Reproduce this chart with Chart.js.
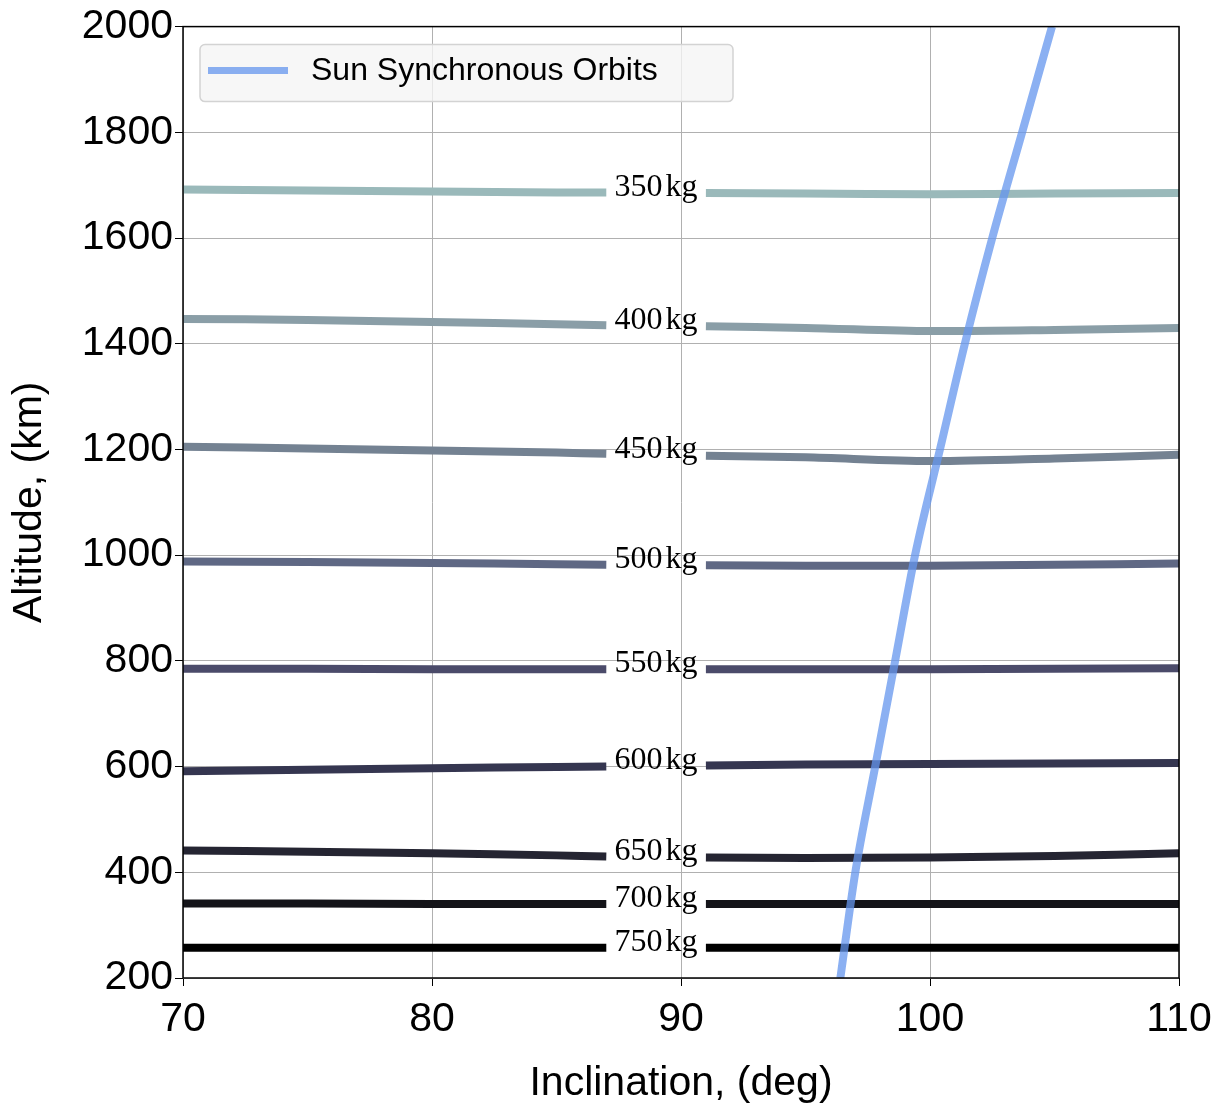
<!DOCTYPE html>
<html>
<head>
<meta charset="utf-8">
<script src="https://cdn.jsdelivr.net/npm/chart.js@4.4.1/dist/chart.umd.min.js"></script>
<style>
    body { margin: 0; background: #fff; }
    #wrap { width: 1231px; height: 1108px; }
</style>
</head>
<body>
<div id="wrap"><canvas id="massChart"></canvas></div>
<script>
// Data
const inclination = [70, 75, 80, 85, 87, 91, 95, 100, 105, 110];
const levels = [350, 400, 450, 500, 550, 600, 650, 700, 750];
const alt350 = [1692, 1690, 1688, 1686, 1686, 1685, 1684, 1683, 1684, 1685];
const alt400 = [1447, 1445, 1441, 1437, 1435, 1433, 1430, 1424, 1426, 1430];
const alt450 = [1205, 1202, 1198, 1194, 1192, 1188, 1185, 1178, 1183, 1190];
const alt500 = [988, 987, 985, 983, 982, 981, 980, 980, 982, 984];
const alt550 = [785, 785, 784, 784, 784, 784, 784, 784, 785, 786];
const alt600 = [591, 594, 597, 599, 600, 602, 604, 605, 606, 607];
const alt650 = [441, 439, 436, 432, 430, 428, 427, 428, 431, 436];
const alt700 = [341, 341, 340, 340, 340, 340, 340, 340, 340, 340];
const alt750 = [257, 257, 257, 257, 257, 257, 257, 257, 257, 257];
const levelAlts = [alt350, alt400, alt450, alt500, alt550, alt600, alt650, alt700, alt750];
const levelColors = ['#9ab9ba', '#8a9ea7', '#748292', '#5f6884', '#4b4b6a', '#353650', '#252532', '#141419', '#000000'];

const ssoAltitude = [200, 400, 600, 800, 1000, 1200, 1400, 1600, 1800, 2000];
const ssoInclination = [96.4, 97.0, 97.8, 98.6, 99.4, 100.4, 101.4, 102.5, 103.7, 104.9];

const xTicks = [70, 80, 90, 100, 110];
const yTicks = [200, 400, 600, 800, 1000, 1200, 1400, 1600, 1800, 2000];

const labelX = 89; // contour labels sit in the gap between 87 and 91

// Build contour datasets, with a null point to break the line for the label
const datasets = levelAlts.map((alts, i) => {
    const pts = [];
    inclination.forEach((x, j) => {
        if (x === 91) pts.push({ x: labelX, y: null });
        pts.push({ x: x, y: alts[j] });
    });
    return {
        label: levels[i] + ' kg',
        data: pts,
        borderColor: levelColors[i],
        borderWidth: 8,
        pointRadius: 0,
        tension: 0.3,
        spanGaps: false,
        order: 2
    };
});

datasets.push({
    label: 'Sun Synchronous Orbits',
    data: ssoAltitude.map((a, i) => ({ x: ssoInclination[i], y: a })),
    borderColor: 'rgba(100, 149, 237, 0.75)',
    borderWidth: 8,
    pointRadius: 0,
    cubicInterpolationMode: 'monotone',
    order: 1
});

// Frame, contour labels and legend box
const extras = {
    id: 'extras',
    afterDatasetsDraw(chart) {
        const ctx = chart.ctx;
        const xs = chart.scales.x;
        const ys = chart.scales.y;
        const area = chart.chartArea;

        // contour labels
        ctx.save();
        ctx.fillStyle = '#000';
        ctx.textBaseline = 'alphabetic';
        ctx.font = '32px "Liberation Serif"';
        levelAlts.forEach((alts, i) => {
            const a = (alts[inclination.indexOf(87)] + alts[inclination.indexOf(91)]) / 2;
            const cx = xs.getPixelForValue(labelX);
            const cy = ys.getPixelForValue(a) + 3;
            const num = String(levels[i]);
            const wNum = ctx.measureText(num).width;
            const wKg = ctx.measureText('kg').width;
            const gap = 3;
            const x0 = cx - (wNum + gap + wKg) / 2;
            ctx.textAlign = 'left';
            ctx.fillText(num, x0, cy);
            ctx.fillText('kg', x0 + wNum + gap, cy);
        });
        ctx.restore();

        // legend
        ctx.save();
        const bx = area.left + 17, by = area.top + 18, bw = 533, bh = 57;
        ctx.beginPath();
        ctx.roundRect(bx, by, bw, bh, 5);
        ctx.fillStyle = 'rgba(245, 245, 245, 0.8)';
        ctx.fill();
        ctx.strokeStyle = '#d3d3d3';
        ctx.lineWidth = 1.5;
        ctx.stroke();
        ctx.beginPath();
        ctx.moveTo(bx + 8, by + 26);
        ctx.lineTo(bx + 88, by + 26);
        ctx.strokeStyle = 'rgba(100, 149, 237, 0.75)';
        ctx.lineWidth = 7;
        ctx.stroke();
        ctx.fillStyle = '#000';
        ctx.font = '32px "Liberation Sans"';
        ctx.textBaseline = 'middle';
        ctx.textAlign = 'left';
        ctx.fillText('Sun Synchronous Orbits', bx + 111, by + 27);
        ctx.restore();

        // frame
        ctx.save();
        ctx.strokeStyle = '#000';
        ctx.lineWidth = 1.5;
        ctx.strokeRect(area.left, area.top, area.right - area.left, area.bottom - area.top);
        ctx.restore();
    }
};

new Chart(document.getElementById('massChart'), {
    type: 'line',
    data: { datasets: datasets },
    options: {
        responsive: true,
        maintainAspectRatio: false,
        animation: false,
        layout: { padding: { left: 0, right: 52, top: 25, bottom: 0 } },
        plugins: {
            legend: { display: false },
            tooltip: { enabled: false }
        },
        scales: {
            x: {
                type: 'linear',
                min: 70,
                max: 110,
                afterFit: (scale) => { scale.height = 130; },
                afterBuildTicks: (scale) => { scale.ticks = xTicks.map(v => ({ value: v })); },
                grid: { color: '#b0b0b0', lineWidth: 1, tickColor: '#000', tickLength: 8 },
                border: { display: false },
                ticks: {
                    color: '#000',
                    padding: 9,
                    maxRotation: 0,
                    callback: (v) => String(v),
                    font: { family: '"Liberation Sans"', size: 41 }
                },
                title: {
                    display: true,
                    text: 'Inclination, (deg)',
                    color: '#000',
                    padding: 0,
                    font: { family: '"Liberation Sans"', size: 41 }
                }
            },
            y: {
                type: 'linear',
                min: 200,
                max: 2000,
                afterFit: (scale) => { scale.width = 183; },
                afterBuildTicks: (scale) => { scale.ticks = yTicks.map(v => ({ value: v })); },
                grid: { color: '#b0b0b0', lineWidth: 1, tickColor: '#000', tickLength: 8 },
                border: { display: false },
                ticks: {
                    color: '#000',
                    padding: 2,
                    callback: (v) => String(v),
                    font: { family: '"Liberation Sans"', size: 41 }
                },
                title: {
                    display: true,
                    text: 'Altitude, (km)',
                    color: '#000',
                    padding: 5,
                    font: { family: '"Liberation Sans"', size: 41 }
                }
            }
        }
    },
    plugins: [extras]
});
</script>
</body>
</html>
